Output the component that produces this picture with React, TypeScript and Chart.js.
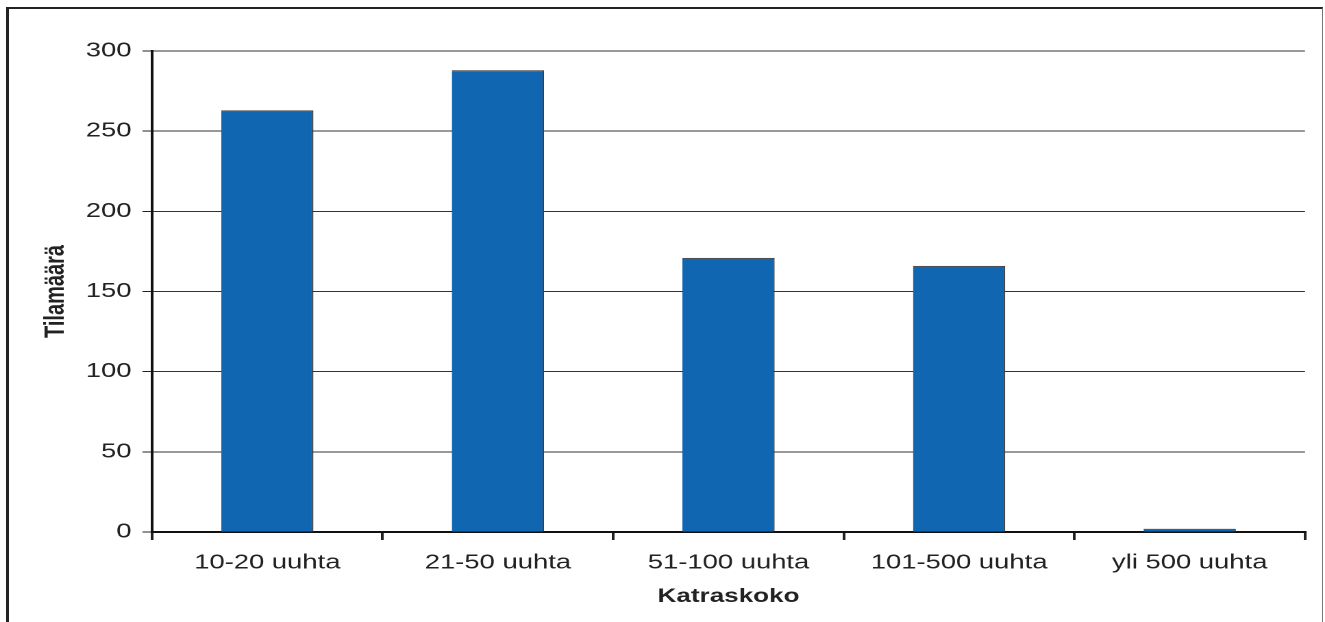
import React, { useEffect, useRef } from "react";
import { Chart, registerables } from "chart.js";

Chart.register(...registerables);

const categories = ["10-20 uuhta", "21-50 uuhta", "51-100 uuhta", "101-500 uuhta", "yli 500 uuhta"];
const values = [263, 288, 171, 166, 2];
const yTitle = "Tilamäärä";
const xTitle = "Katraskoko";

const STRETCH = 1.37;
const W = 1325;
const H = 622;
const LW = W / STRETCH;

export default function App() {
  const ref = useRef<HTMLCanvasElement | null>(null);

  useEffect(() => {
    if (!ref.current) return;
    const chart = new Chart(ref.current, {
      type: "bar",
      data: {
        labels: categories,
        datasets: [
          {
            data: values,
            backgroundColor: "#1166B2",
            borderColor: "#3a3a3a",
            borderWidth: { top: 1, right: 1, left: 0, bottom: 0 } as any,
            barPercentage: 0.4,
            categoryPercentage: 1,
          },
        ],
      },
      options: {
        responsive: false,
        animation: false,
        devicePixelRatio: 2,
        layout: { padding: { top: 51, right: LW - 1305 / STRETCH, left: 0, bottom: 0 } },
        plugins: { legend: { display: false }, tooltip: { enabled: false } },
        scales: {
          x: {
            afterFit: (s: any) => {
              s.height = H - 532;
            },
            grid: {
              drawOnChartArea: false,
              drawTicks: true,
              tickLength: 8,
              offset: true,
              color: "#222",
              lineWidth: 2,
            },
            border: { color: "#111", width: 2 },
            ticks: {
              color: "#222",
              padding: 11,
              font: { family: "'Liberation Sans', Arial, sans-serif", size: 20 },
              maxRotation: 0,
            },
            title: {
              display: true,
              text: xTitle,
              color: "#222",
              font: { family: "'Liberation Sans', Arial, sans-serif", size: 19, weight: "bold" },
              padding: { top: 0, bottom: 14 },
            },
          },
          y: {
            min: 0,
            max: 300,
            afterFit: (s: any) => {
              s.width = 152 / STRETCH;
            },
            ticks: {
              stepSize: 50,
              color: "#222",
              padding: 8,
              font: { family: "'Liberation Sans', Arial, sans-serif", size: 20 },
            },
            grid: {
              color: "#333",
              lineWidth: 1,
              drawTicks: true,
              tickLength: 7,
              tickColor: "#222",
            },
            border: { color: "#111", width: 2 },
            title: {
              display: true,
              text: yTitle,
              color: "#222",
              font: { family: "'Liberation Sans', Arial, sans-serif", size: 20, weight: "bold" },
              padding: { top: 29, bottom: 0 },
            },
          },
        },
      },
    });
    return () => chart.destroy();
  }, []);

  return (
    <div style={{ position: "absolute", left: 0, top: 0, width: W, height: H, overflow: "hidden", background: "#fff" }}>
      <div
        style={{
          position: "absolute",
          left: 6,
          top: 7,
          width: 1313,
          height: 700,
          borderLeft: "3px solid #222",
          borderTop: "2px solid #222",
          borderRight: "1px solid #777",
        }}
      />
      <canvas
        ref={ref}
        width={Math.round(LW)}
        height={H}
        style={{ position: "absolute", left: 0, top: 0, width: W, height: H }}
      />
    </div>
  );
}
